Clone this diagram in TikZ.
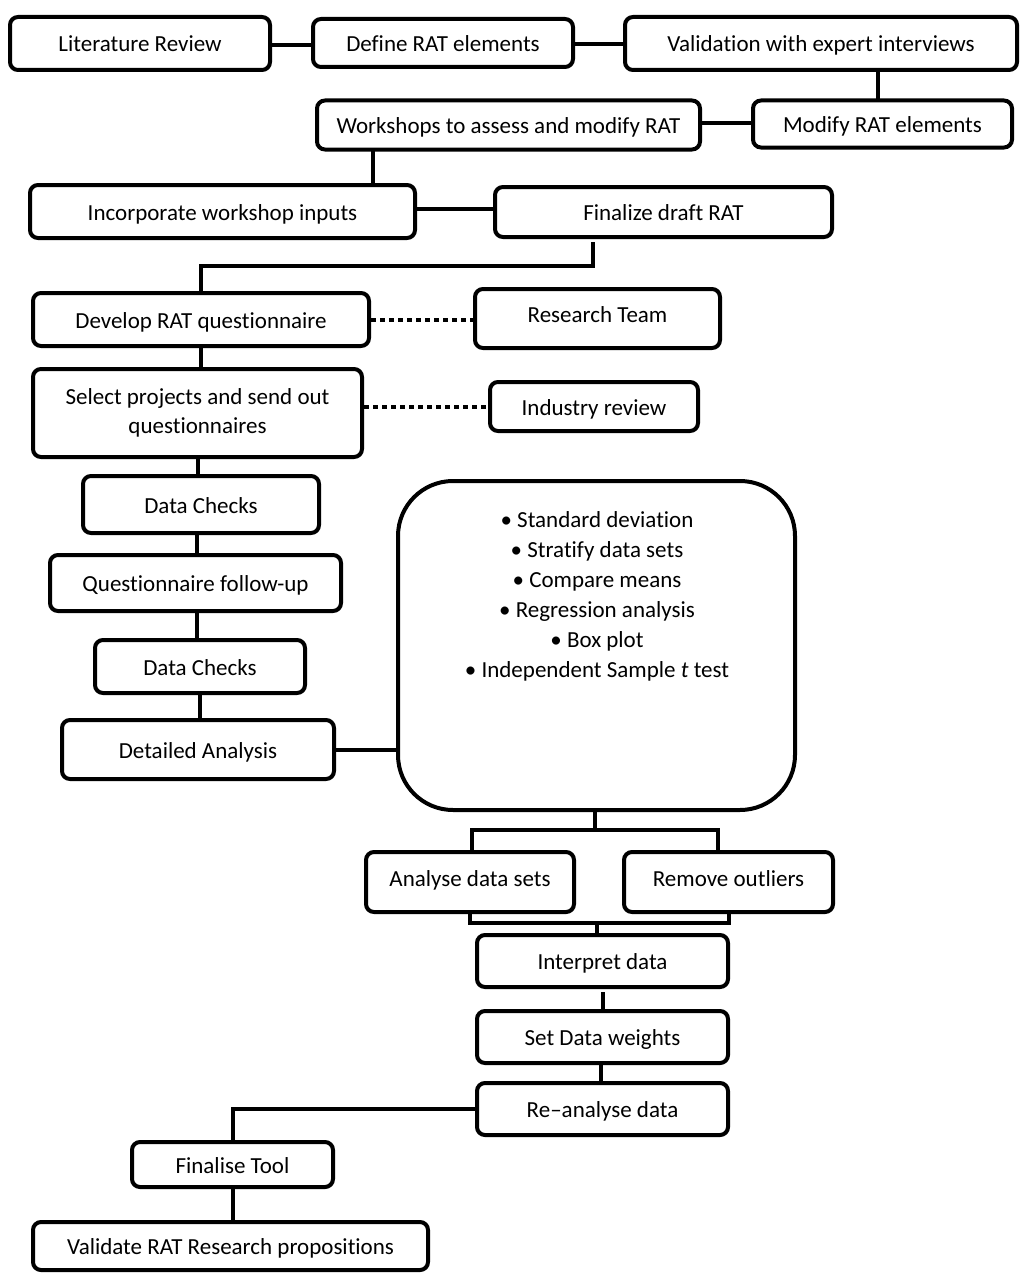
\documentclass[tikz,border=0pt]{standalone}
\usepackage{fontspec}
\setmainfont{Carlito}[RawFeature={-liga;-clig;-dlig}]
\begin{document}
\begin{tikzpicture}[x=1pt,y=-1pt,
  boxbase/.style={draw=black, line width=4pt, rounded corners=8pt, fill=white, inner sep=0pt, align=center,
    font=\fontsize{23}{29}\selectfont},
  box/.style={boxbase, text height=20pt, text depth=3pt},
  hibox/.style={boxbase, text height=16pt, text depth=8pt},
  conn/.style={line width=4pt, line cap=rect},
  dotconn/.style={line width=4pt, dash pattern=on 5pt off 4pt}]
\useasboundingbox[fill=white] (0,0) rectangle (1027,1279);
% nodes
\node[box, minimum width=260, minimum height=53] (lit) at (140,43.5) {Literature Review};
\node[box, minimum width=260, minimum height=48] (def) at (443,43) {Define RAT elements};
\node[box, minimum width=392, minimum height=53] (val) at (821,43.5) {Validation with expert interviews};
\node[box, minimum width=259, minimum height=47] (mod) at (882.5,124) {Modify RAT elements};
\node[box, minimum width=383, minimum height=49] (ws) at (508.5,125) {Workshops to assess and modify RAT};
\node[box, minimum width=385, minimum height=53] (inc) at (222.5,211.5) {Incorporate workshop inputs};
\node[box, minimum width=337, minimum height=50] (fin) at (663.5,212) {Finalize draft RAT};
\node[box, minimum width=336, minimum height=53] (dev) at (201,319.5) {Develop RAT questionnaire};
\node[hibox, minimum width=245, minimum height=59] (rt) at (597.5,318.5) {Research Team};
\node[boxbase, minimum width=329, minimum height=88] (sel) at (197.5,413) {Select projects and send out\\questionnaires};
\node[box, minimum width=208, minimum height=49] (ind) at (594,406.5) {Industry review};
\node[box, minimum width=236, minimum height=57] (dc1) at (201,504.5) {Data Checks};
\node[box, minimum width=291, minimum height=56] (qf) at (195.5,583) {Questionnaire follow-up};
\node[box, minimum width=210, minimum height=53] (dc2) at (200,666.5) {Data Checks};
\node[box, minimum width=272, minimum height=59] (da) at (198,749.5) {Detailed Analysis};
\node[boxbase, rounded corners=55pt, minimum width=397, minimum height=329, anchor=north] (big) at (596.5,479) {};
\node[font=\fontsize{23}{30}\selectfont, align=center, anchor=north, inner sep=0pt] (bl) at (597,511)
  {\textbullet\ Standard deviation\\ \textbullet\ Stratify data sets\\ \textbullet\ Compare means\\
   \textbullet\ Regression analysis\\ \textbullet\ Box plot\\ \textbullet\ Independent Sample \textit{t} test};
\node[hibox, minimum width=208, minimum height=60] (an) at (470,882) {Analyse data sets};
\node[hibox, minimum width=209, minimum height=60] (ro) at (728.5,882) {Remove outliers};
\node[box, minimum width=251, minimum height=52] (intp) at (602.5,961) {Interpret data};
\node[box, minimum width=251, minimum height=52] (sdw) at (602.5,1037) {Set Data weights};
\node[box, minimum width=251, minimum height=52] (re) at (602.5,1109) {Re--analyse data};
\node[box, minimum width=201, minimum height=45] (ft) at (232.5,1164.5) {Finalise Tool};
\node[box, minimum width=395, minimum height=48] (vr) at (230.5,1246) {Validate RAT Research propositions};
% helper coordinates
\coordinate (c878) at (878,0);
\coordinate (c373) at (373,0);
\coordinate (k1) at (593,266);
\coordinate (cL) at (472,830);
\coordinate (cR) at (718,830);
\coordinate (sp) at (595,830);
\coordinate (jn) at (597,923);
\coordinate (c603) at (603,0);
\coordinate (c601) at (601,0);
\coordinate (c197) at (197,0);
% connectors
\draw[conn] (lit.east |- 0,45) -- (def.west |- 0,45);
\draw[conn] (def.east |- 0,44) -- (val.west |- 0,44);
\draw[conn] (val.south -| c878) -- (mod.north -| c878);
\draw[conn] (ws.east |- 0,123) -- (mod.west |- 0,123);
\draw[conn] (ws.south -| c373) -- (inc.north -| c373);
\draw[conn] (inc.east |- 0,209) -- (fin.west |- 0,209);
\draw[conn] ([yshift=-5pt]fin.south -| k1) -- (k1) -| (dev.north);
\draw[dotconn] (dev.east) -- (dev.east -| rt.west);
\draw[conn] (dev.south) -- (dev.south |- sel.north);
\draw[dotconn] (ind.west -| sel.east) -- (ind.west);
\draw[conn] (dc1.north -| sel.south) -- (sel.south);
\draw[conn] (dc1.south -| c197) -- (qf.north -| c197);
\draw[conn] (qf.south -| c197) -- (dc2.north -| c197);
\draw[conn] (dc2.south) -- (dc2.south |- da.north);
\draw[conn] (da.east) -- (da.east -| big.west);
\draw[conn] (big.south -| sp) -- (sp);
\draw[conn] (an.north -| cL) |- (sp) -| (ro.north -| cR);
\draw[conn] (an.south) |- (jn) -| (ro.south);
\draw[conn] (jn) -- (jn |- intp.north);
\draw[conn] ([yshift=-5pt]intp.south -| c603) -- (sdw.north -| c603);
\draw[conn] (sdw.south -| c601) -- (re.north -| c601);
\draw[conn] (re.west) -| (ft.north);
\draw[conn] (ft.south) -- (ft.south |- vr.north);
\end{tikzpicture}
\end{document}
